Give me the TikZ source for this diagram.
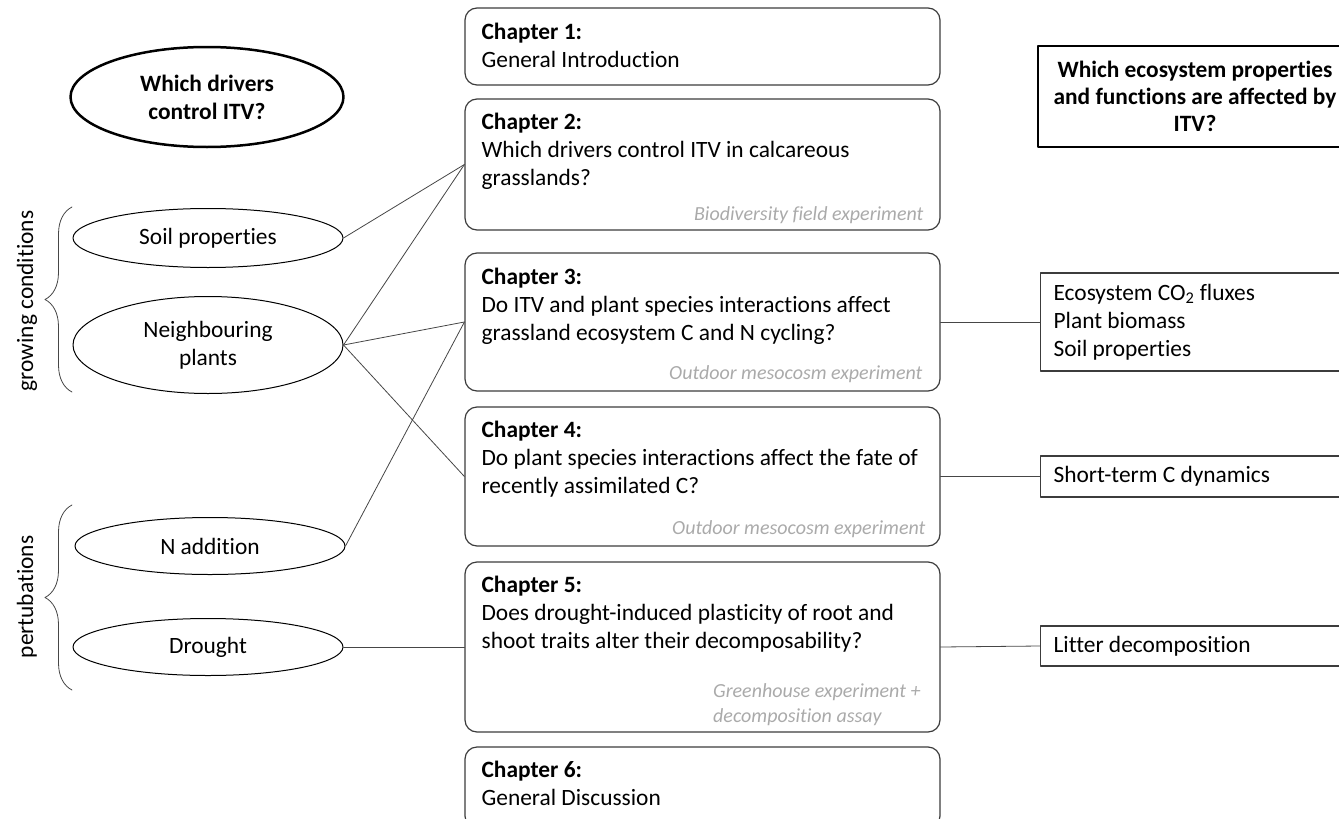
\documentclass[tikz,border=0pt]{standalone}
\usepackage{fontspec}
\setmainfont{Carlito}[Ligatures=NoCommon]
\usepackage{tikz}
\usetikzlibrary{shapes.geometric,decorations.pathreplacing}

\definecolor{boxgray}{RGB}{60,60,60}
\definecolor{linegray}{RGB}{70,70,70}
\definecolor{notegray}{RGB}{170,170,170}

\newcommand{\chapblock}[1]{\parbox[t]{450pt}{#1}}

\begin{document}
\begin{tikzpicture}[x=1pt,y=-1pt,line cap=round,line join=round,
    every node/.style={font=\fontsize{23.4}{28}\selectfont},
    chap/.style={draw=boxgray,line width=1.2pt,rounded corners=12pt,minimum width=475pt,inner sep=0pt},
    chaptext/.style={anchor=base west,inner sep=0pt},
    note/.style={text=notegray,inner sep=0pt,font=\fontsize{20}{25}\selectfont\itshape},
    driver/.style={ellipse,draw=black,line width=1pt,minimum width=270pt,inner sep=0pt,align=center},
    outbox/.style={draw=boxgray,line width=1.2pt,anchor=west,align=flush left,text width=300pt,inner xsep=13pt,inner ysep=0pt},
    link/.style={draw=linegray,line width=0.8pt},
    bracket/.style={draw=linegray,line width=0.8pt,decorate,decoration={brace,amplitude=27pt}}]
        \useasboundingbox (0,0) rectangle (1339,819);
        \clip (0,0) rectangle (1339,819);
        % chapters
        \node[chap,minimum height=77pt] (ch1) at (702.5,46.5) {};
        \node[chap,minimum height=131pt] (ch2) at (702.5,164.5) {};
        \node[chap,minimum height=138pt] (ch3) at (702.5,322) {};
        \node[chap,minimum height=139pt] (ch4) at (702.5,476.5) {};
        \node[chap,minimum height=170pt] (ch5) at (702.5,647) {};
        \node[chap,minimum height=81pt] (ch6) at (702.5,787.5) {};
        \node[chaptext] (t1) at ([xshift=17pt,yshift=-32pt]ch1.north west) {\chapblock{\textbf{Chapter 1:}\\General Introduction}};
        \node[chaptext] (t2) at ([xshift=17pt,yshift=-31pt]ch2.north west) {\chapblock{\textbf{Chapter 2:}\\Which drivers control ITV in calcareous\\grasslands?}};
        \node[chaptext] (t3) at ([xshift=17pt,yshift=-32pt]ch3.north west) {\chapblock{\textbf{Chapter 3:}\\Do ITV and plant species interactions affect\\grassland ecosystem C and N cycling?}};
        \node[chaptext] (t4) at ([xshift=17pt,yshift=-31pt]ch4.north west) {\chapblock{\textbf{Chapter 4:}\\Do plant species interactions affect the fate of\\recently assimilated C?}};
        \node[chaptext] (t5) at ([xshift=17pt,yshift=-31pt]ch5.north west) {\chapblock{\textbf{Chapter 5:}\\Does drought-induced plasticity of root and\\shoot traits alter their decomposability?}};
        \node[chaptext] (t6) at ([xshift=17pt,yshift=-31pt]ch6.north west) {\chapblock{\textbf{Chapter 6:}\\General Discussion}};
        \node[note,anchor=base east] (n2) at ([xshift=-17pt,yshift=10pt]ch2.south east) {Biodiversity field experiment};
        \node[note,anchor=base east] (n3) at ([xshift=-18pt,yshift=12pt]ch3.south east) {Outdoor mesocosm experiment};
        \node[note,anchor=base east] (n4) at ([xshift=-15pt,yshift=12pt]ch4.south east) {Outdoor mesocosm experiment};
        \node[note,anchor=base west,align=left] (n5) at (713,722) {Greenhouse experiment +\\decomposition assay};
        % drivers
        \node[driver,line width=2.5pt,minimum width=273pt,minimum height=100pt,font=\bfseries\fontsize{23.4}{28}\selectfont] (drivers) at (207,97) {Which drivers\\control ITV?};
        \node[driver,minimum height=59pt] (soil) at (208,238) {Soil properties};
        \node[driver,minimum height=97pt] (neigh) at (208,345) {Neighbouring\\plants};
        \node[driver,minimum height=57pt] (nadd) at (210,546) {N addition};
        \node[driver,minimum height=57pt] (drought) at (208,647) {Drought};
        \draw[bracket] (72,392) -- (72,207);
        \draw[bracket] (72,690) -- (72,505);
        \node[rotate=90] (grow) at (27,301) {growing conditions};
        \node[rotate=90] (pert) at (27,597) {pertubations};
        % ecosystem side
        \node[draw=black,line width=2.5pt,minimum width=314pt,minimum height=101pt,inner sep=0pt,align=center,font=\bfseries\fontsize{23.4}{27}\selectfont] (affect) at (1195,96.5) {Which ecosystem properties\\and functions are affected by\\ITV?};
        \node[outbox,minimum height=98pt] (eco) at (1040,322) {Ecosystem CO\textsubscript{2} fluxes\\Plant biomass\\Soil properties};
        \node[outbox,minimum height=41pt] (cdyn) at (1040,476.5) {Short-term C dynamics};
        \node[outbox,minimum height=40pt] (litter) at (1040,646) {Litter decomposition};
        % links
        \draw[link] (soil.east) -- (ch2.west);
        \draw[link] (neigh.east) -- (ch2.west);
        \draw[link] (neigh.east) -- (ch3.west);
        \draw[link] (neigh.east) -- (ch4.west);
        \draw[link] (nadd.east) -- (ch3.west);
        \draw[link] (drought.east) -- (ch5.west);
        \draw[link] (ch3.east) -- (eco.west);
        \draw[link] (ch4.east) -- (cdyn.west);
        \draw[link] (ch5.east) -- (litter.west);
    \end{tikzpicture}
\end{document}
